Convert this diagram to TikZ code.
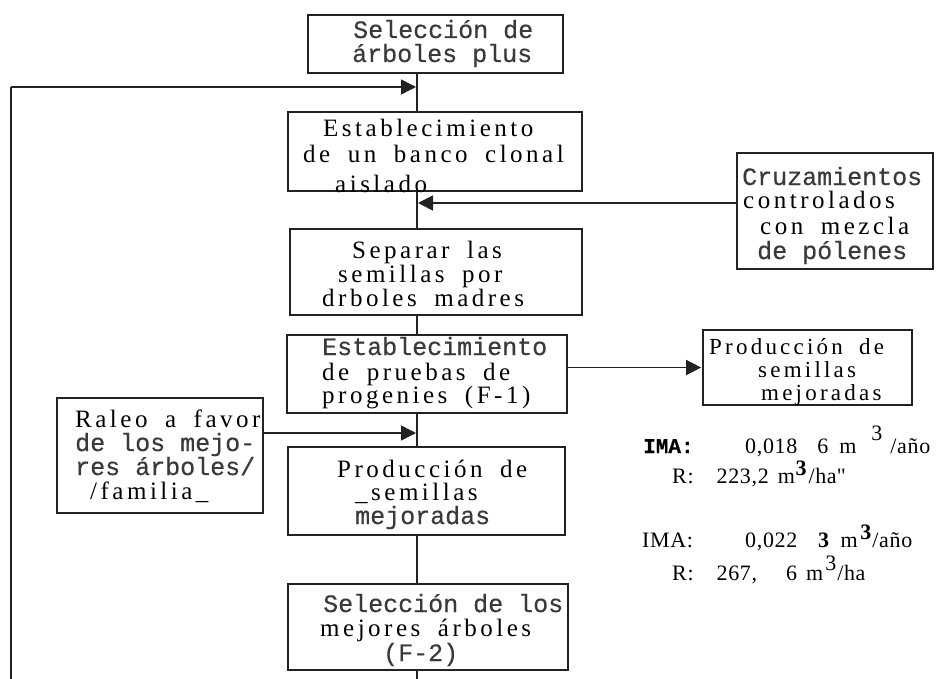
\documentclass[tikz,border=0pt]{standalone}
\usepackage{fontspec}
\setmainfont{Liberation Serif}
\newfontfamily\monofam[FakeBold=0.4]{Liberation Mono}
\newfontfamily\lsfont[LetterSpace=14,WordSpace=1.8]{Liberation Serif}
\newfontfamily\numfont[LetterSpace=3]{Liberation Serif}
\usetikzlibrary{arrows.meta}
\definecolor{ink}{HTML}{222222}
\definecolor{grayink}{HTML}{3a3a3a}
\begin{document}
\begin{tikzpicture}[x=1pt,y=-1pt,
  box/.style={draw=ink, line width=1.7pt, rectangle, inner sep=0pt},
  lsline/.style={inner sep=0pt, anchor=base west, font=\lsfont\fontsize{25}{26}\selectfont, text=black},
  lssmall/.style={lsline, font=\lsfont\fontsize{23}{24}\selectfont},
  mline/.style={inner sep=0pt, anchor=base west, font=\monofam\fontsize{25}{26}\selectfont, text=grayink},
  num/.style={inner sep=0pt, anchor=base west, font=\numfont\fontsize{22}{24}\selectfont, text=black},
  link/.style={draw=ink, line width=1.5pt},
  arr/.style={link, -{Triangle[length=15pt,width=15pt]}, shorten >=1pt},
]
\fill[white] (0,0) rectangle (949,679);
\useasboundingbox (0,0) rectangle (949,679);

% boxes
\node[box, minimum width=255pt, minimum height=58pt] (b1) at (435.5,44) {};
\node[box, minimum width=294pt, minimum height=79pt] (b2) at (435,151.5) {};
\node[box, minimum width=292pt, minimum height=86pt] (b3) at (436,272) {};
\node[box, minimum width=280pt, minimum height=78pt] (b4) at (427,374) {};
\node[box, minimum width=209pt, minimum height=75pt] (prod2) at (807.5,367.5) {};
\node[box, minimum width=196pt, minimum height=116pt] (cruz) at (835,211) {};
\node[box, minimum width=206pt, minimum height=115pt] (raleo) at (160,455.5) {};
\node[box, minimum width=277pt, minimum height=88pt] (b5) at (426.5,491) {};
\node[box, minimum width=280pt, minimum height=86pt] (b6) at (428,627) {};

% helper coordinates
\coordinate (spine) at (417,0);
\coordinate (fbtop) at (11,87);
\coordinate (fbbot) at (11,679);
\coordinate (spinebot) at (417,679);

% spine
\draw[link] (b1.south -| spine) -- (b2.north -| spine);
\draw[link] (b2.south -| spine) -- (b3.north -| spine);
\draw[link] (b3.south -| spine) -- (b4.north -| spine);
\draw[link] (b4.south -| spine) -- (b5.north -| spine);
\draw[link] (b5.south -| spine) -- (b6.north -| spine);
\draw[link] (b6.south -| spine) -- (spinebot);

% feedback loop
\draw[link, line width=2.4pt] (fbbot) -- (fbtop);
\draw[arr] (fbtop) -- (fbtop -| spine);

% side arrows
\draw[arr] ([yshift=8pt]cruz.west) -- ([yshift=8pt]cruz.west -| spine);
\draw[arr] (b4.east |- prod2.west) -- (prod2.west);
\draw[arr] ([yshift=22.5pt]raleo.east) -- ([yshift=22.5pt]raleo.east -| spine);

% texts b1
\node[mline] (t1a) at (353,38) {Selección de};
\node[mline] (t1b) at (352,62) {árboles plus};
% b2
\node[lsline] (t2a) at (323,137) {Establecimiento};
\node[lsline] (t2b) at (303,162) {de un banco clonal};
\node[lsline] (t2c) at (335,192) {aislado};
% b3
\node[lsline] (t3a) at (352,258) {Separar las};
\node[lsline] (t3b) at (338,282) {semillas por};
\node[lsline] (t3c) at (322,306) {drboles madres};
% b4
\node[mline] (t4a) at (322,355) {Establecimiento};
\node[lsline] (t4b) at (322,380) {de pruebas de};
\node[lsline] (t4c) at (322,403) {progenies (F-1)};
% prod2
\node[lssmall] (t5a) at (709,354) {Producción de};
\node[lssmall] (t5b) at (758,377) {semillas};
\node[lssmall] (t5c) at (761,400) {mejoradas};
% cruz
\node[mline] (t6a) at (742,185) {Cruzamientos};
\node[lsline] (t6b) at (743,208) {controlados};
\node[lsline] (t6c) at (760,234) {con mezcla};
\node[mline] (t6d) at (757,259) {de pólenes};
% raleo
\node[lsline] (t7a) at (75,427) {Raleo a favor};
\node[mline] (t7b) at (75,451) {de los mejo-};
\node[mline] (t7c) at (75,475) {res árboles/};
\node[lsline] (t7d) at (90,499) {/familia\_};
% b5
\node[lsline] (t8a) at (337,477) {Producción de};
\node[lsline] (t8b) at (355,500) {\_semillas};
\node[mline] (t8c) at (355,524) {mejoradas};
% b6
\node[mline] (t9a) at (323,612) {Selección de los};
\node[lsline] (t9b) at (320,636) {mejores árboles};
\node[mline] (t9c) at (383,661) {(F-2)};

% annotations
\node[inner sep=0pt, anchor=base west, font=\monofam\bfseries\fontsize{21}{22}\selectfont] (ima1) at (643,453) {IMA:};
\node[num] (v1) at (745,453) {0,018\hspace{20pt}6\hspace{11pt}m\hspace{15pt}\raisebox{13pt}{3}\hspace{8pt}/año};
\node[num] (r1) at (672,483) {R:\hspace{23pt}223,2\hspace{9pt}m\textbf{\raisebox{8pt}{3}}\hspace{2pt}/ha\textquotedbl};
\node[num] (ima2) at (642,547) {IMA:};
\node[num] (v2) at (745,547) {0,022\hspace{20pt}\textbf{3}\hspace{11pt}m\hspace{2pt}\textbf{\raisebox{8pt}{3}}\hspace{1pt}/año};
\node[num] (r2) at (672,580) {R:\hspace{23pt}267,\hspace{29pt}6\hspace{9pt}m\hspace{2pt}\raisebox{10pt}{3}\hspace{1pt}/ha};
\end{tikzpicture}
\end{document}
